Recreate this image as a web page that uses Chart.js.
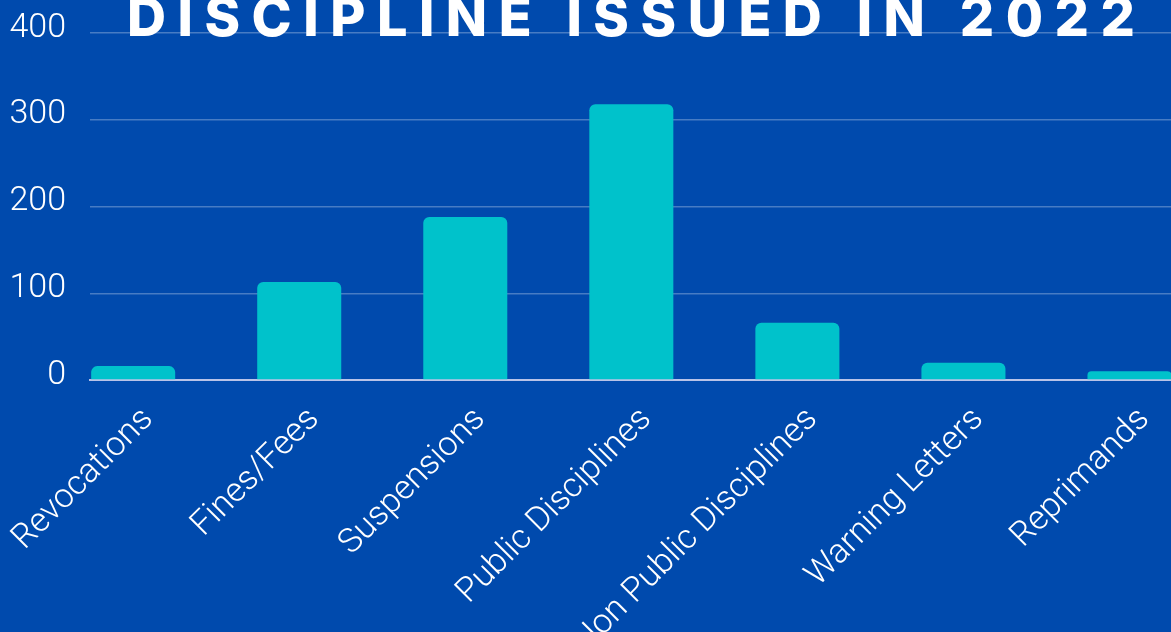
<!DOCTYPE html>
<html>
<head>
<meta charset="utf-8">
<script src="https://cdn.jsdelivr.net/npm/chart.js@4.4.0/dist/chart.umd.min.js"></script>
<style>
  html, body { margin: 0; padding: 0; background: #004aad; overflow: hidden; }
  #wrap { position: relative; width: 1171px; height: 632px; }
  #title {
    position: absolute; left: 127px; top: -10px; z-index: 2;
    font-family: Inter, "Open Sans", sans-serif; font-weight: 800;
    font-size: 54px; line-height: 54px; letter-spacing: 11.5px;
    color: #fff; white-space: nowrap;
  }
</style>
</head>
<body>
<div id="wrap">
  <div id="title">DISCIPLINE ISSUED IN 2022</div>
  <canvas id="mybar" width="1171" height="632"></canvas>
</div>
<script>
// data
const categories = ['Revocations', 'Fines/Fees', 'Suspensions', 'Public Disciplines', 'Non Public Disciplines', 'Warning Letters', 'Reprimands'];
const counts = [16, 113, 188, 318, 66, 20, 10];
const yTicks = [0, 100, 200, 300, 400];

const tickFont = { family: 'Roboto', size: 34, weight: '300' };

const ctx = document.querySelector('#mybar').getContext('2d');
const config = {
  type: 'bar',
  data: {
    datasets: [{
      data: counts.map((v, i) => ({ x: i, y: v })),
      backgroundColor: '#00c2cb',
      borderRadius: 6,
      barPercentage: 0.506,
      categoryPercentage: 1,
    }]
  },
  options: {
    responsive: false,
    animation: false,
    layout: { padding: { top: 33, right: 0, left: 0, bottom: 0 } },
    plugins: {
      legend: { display: false },
      tooltip: { enabled: false },
    },
    scales: {
      x: {
        type: 'linear',
        offset: false,
        min: -0.26,
        max: 6.25,
        afterBuildTicks: (axis) => { axis.ticks = categories.map((c, i) => ({ value: i })); },
        afterFit: (scale) => {
          scale.height = 252;
          scale.paddingLeft = 0;
          scale.paddingRight = 0;
        },
        grid: { display: false },
        border: { display: true, color: '#b9c3e8', width: 2 },
        ticks: {
          callback: (v) => categories[v],
          autoSkip: false,
          minRotation: 45,
          maxRotation: 45,
          color: '#ffffff',
          font: tickFont,
          padding: 12,
          labelOffset: 15,
        }
      },
      y: {
        min: 0,
        max: 400,
        afterBuildTicks: (axis) => { axis.ticks = yTicks.map(v => ({ value: v })); },
        afterFit: (scale) => {
          scale.width = 90;
          scale.paddingTop = 0;
          scale.paddingBottom = 0;
        },
        grid: {
          drawTicks: false,
          lineWidth: 1.5,
          color: (c) => c.tick && c.tick.value === 0 ? 'rgba(0,0,0,0)' : 'rgba(255,255,255,0.28)',
        },
        border: { display: false },
        ticks: {
          color: '#ffffff',
          font: tickFont,
          padding: 24,
          labelOffset: -5,
        }
      }
    }
  }
};
const myChart = new Chart(ctx, config);
</script>
</body>
</html>
